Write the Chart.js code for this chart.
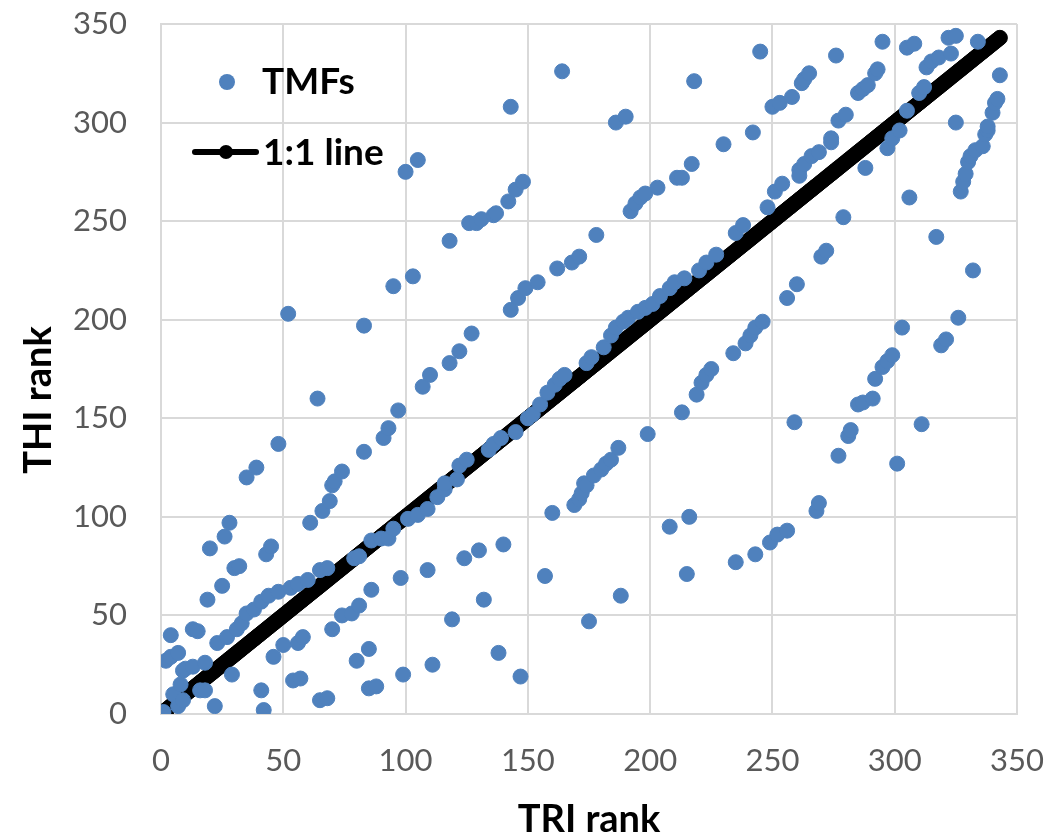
<!DOCTYPE html>
<html>
<head>
<meta charset="utf-8">
<script src="https://cdn.jsdelivr.net/npm/chart.js@4.4.1/dist/chart.umd.min.js"></script>
<style>
html,body{margin:0;padding:0;background:#ffffff;}
#wrap{width:1048px;height:836px;position:relative;}
</style>
</head>
<body>
<div id="wrap"><canvas id="c" width="1048" height="836"></canvas></div>
<script>
// ---------- data ----------
const xTitle = 'TRI rank';
const yTitle = 'THI rank';
const seriesNames = ['TMFs', '1:1 line'];
const axisTicks = [0, 50, 100, 150, 200, 250, 300, 350];

// TMFs: TRI rank (x) and THI rank (y)
const triRank = [
  1, 2, 4, 4, 5, 7, 7, 8, 9, 9, 10, 13, 13, 15, 16, 18, 18, 19, 20, 22,
  23, 25, 26, 27, 28, 29, 30, 31, 32, 33, 35, 35, 38, 39, 41, 41, 42, 43, 44, 45,
  46, 48, 48, 50, 52, 53, 54, 56, 56, 57, 58, 60, 61, 64, 65, 65, 66, 68, 68, 69,
  70, 70, 71, 74, 74, 78, 79, 80, 81, 81, 83, 83, 85, 85, 86, 86, 88, 90, 91, 93,
  93, 95, 95, 97, 98, 99, 100, 101, 103, 105, 105, 107, 109, 109, 110, 111, 113, 116, 116, 118,
  118, 119, 121, 122, 122, 124, 125, 126, 127, 129, 130, 131, 132, 134, 136, 136, 137, 138, 139, 140,
  142, 143, 143, 145, 145, 146, 147, 148, 149, 150, 152, 154, 155, 157, 158, 160, 161, 162, 163, 164,
  165, 168, 169, 171, 171, 172, 173, 174, 174, 175, 176, 177, 178, 180, 181, 182, 184, 184, 186, 186,
  187, 188, 189, 190, 191, 192, 194, 195, 196, 198, 198, 199, 201, 203, 204, 208, 208, 210, 211, 213,
  213, 214, 215, 216, 217, 218, 219, 220, 221, 223, 223, 225, 227, 230, 234, 235, 235, 238, 239, 241,
  242, 243, 243, 245, 246, 248, 249, 250, 251, 252, 253, 254, 256, 256, 258, 259, 260, 261, 261, 262,
  263, 263, 265, 266, 268, 269, 269, 270, 272, 274, 274, 276, 277, 277, 279, 280, 281, 282, 285, 285,
  287, 287, 288, 289, 291, 292, 292, 293, 295, 295, 297, 297, 299, 299, 301, 302, 303, 305, 305, 306,
  308, 310, 311, 312, 313, 315, 317, 318, 319, 321, 322, 323, 325, 325, 326, 327, 328, 329, 330, 331,
  332, 333, 334, 336, 337, 338, 338, 340, 341, 342, 343
];
const thiRank = [
  1, 27, 29, 40, 10, 31, 4, 15, 22, 7, 23, 24, 43, 42, 12, 26, 12, 58, 84, 4,
  36, 65, 90, 39, 97, 20, 74, 43, 75, 46, 51, 120, 53, 125, 57, 12, 2, 81, 60, 85,
  29, 62, 137, 35, 203, 64, 17, 66, 36, 18, 39, 68, 97, 160, 73, 7, 103, 74, 8, 108,
  116, 43, 118, 123, 50, 51, 79, 27, 80, 55, 197, 133, 33, 13, 88, 63, 14, 89, 140, 89,
  145, 94, 217, 154, 69, 20, 275, 99, 222, 101, 281, 166, 104, 73, 172, 25, 110, 114, 117, 178,
  240, 48, 119, 184, 126, 79, 129, 249, 193, 249, 83, 251, 58, 134, 253, 137, 254, 31, 140, 86,
  260, 308, 205, 266, 143, 211, 19, 270, 216, 150, 152, 219, 157, 70, 163, 102, 167, 226, 170, 326,
  172, 229, 106, 232, 109, 112, 117, 116, 178, 47, 181, 121, 243, 124, 186, 127, 129, 192, 300, 196,
  135, 60, 199, 303, 201, 255, 259, 204, 262, 264, 206, 142, 208, 267, 212, 216, 95, 219, 272, 272,
  153, 221, 71, 100, 279, 321, 162, 225, 168, 229, 172, 175, 233, 289, 183, 244, 77, 248, 188, 192,
  295, 196, 81, 336, 199, 257, 87, 308, 265, 91, 310, 269, 211, 93, 313, 148, 218, 276, 273, 320,
  322, 279, 325, 283, 103, 285, 107, 232, 235, 292, 290, 334, 301, 131, 252, 304, 141, 144, 315, 157,
  317, 158, 277, 319, 160, 325, 170, 327, 341, 176, 287, 179, 292, 182, 127, 296, 196, 338, 306, 262,
  340, 315, 147, 318, 328, 331, 242, 333, 187, 190, 343, 335, 344, 300, 201, 265, 270, 274, 280, 283,
  225, 286, 341, 288, 294, 296, 298, 305, 310, 312, 324
];

// 1:1 line: every rank plotted against itself
const lineRank = [
  1, 2, 3, 4, 5, 6, 7, 8, 9, 10, 11, 12, 13, 14, 15, 16, 17, 18, 19, 20,
  21, 22, 23, 24, 25, 26, 27, 28, 29, 30, 31, 32, 33, 34, 35, 36, 37, 38, 39, 40,
  41, 42, 43, 44, 45, 46, 47, 48, 49, 50, 51, 52, 53, 54, 55, 56, 57, 58, 59, 60,
  61, 62, 63, 64, 65, 66, 67, 68, 69, 70, 71, 72, 73, 74, 75, 76, 77, 78, 79, 80,
  81, 82, 83, 84, 85, 86, 87, 88, 89, 90, 91, 92, 93, 94, 95, 96, 97, 98, 99, 100,
  101, 102, 103, 104, 105, 106, 107, 108, 109, 110, 111, 112, 113, 114, 115, 116, 117, 118, 119, 120,
  121, 122, 123, 124, 125, 126, 127, 128, 129, 130, 131, 132, 133, 134, 135, 136, 137, 138, 139, 140,
  141, 142, 143, 144, 145, 146, 147, 148, 149, 150, 151, 152, 153, 154, 155, 156, 157, 158, 159, 160,
  161, 162, 163, 164, 165, 166, 167, 168, 169, 170, 171, 172, 173, 174, 175, 176, 177, 178, 179, 180,
  181, 182, 183, 184, 185, 186, 187, 188, 189, 190, 191, 192, 193, 194, 195, 196, 197, 198, 199, 200,
  201, 202, 203, 204, 205, 206, 207, 208, 209, 210, 211, 212, 213, 214, 215, 216, 217, 218, 219, 220,
  221, 222, 223, 224, 225, 226, 227, 228, 229, 230, 231, 232, 233, 234, 235, 236, 237, 238, 239, 240,
  241, 242, 243, 244, 245, 246, 247, 248, 249, 250, 251, 252, 253, 254, 255, 256, 257, 258, 259, 260,
  261, 262, 263, 264, 265, 266, 267, 268, 269, 270, 271, 272, 273, 274, 275, 276, 277, 278, 279, 280,
  281, 282, 283, 284, 285, 286, 287, 288, 289, 290, 291, 292, 293, 294, 295, 296, 297, 298, 299, 300,
  301, 302, 303, 304, 305, 306, 307, 308, 309, 310, 311, 312, 313, 314, 315, 316, 317, 318, 319, 320,
  321, 322, 323, 324, 325, 326, 327, 328, 329, 330, 331, 332, 333, 334, 335, 336, 337, 338, 339, 340,
  341, 342, 343
];

// ---------- styles ----------
const BLUE = '#4F81BD';
const GRID = '#D9D9D9';
const TICK = '#595959';
const FONT = 'Lato, "Open Sans", "DejaVu Sans", sans-serif';

const tmfPoints = triRank.map((x, i) => ({ x: x, y: thiRank[i] }));
const linePoints = lineRank.map(r => ({ x: r, y: r }));

const overlay = {
  id: 'overlay',
  afterDraw(chart) {
    const ctx = chart.ctx;
    const ca = chart.chartArea;
    const ds = chart.data.datasets;
    ctx.save();
    // axis titles
    ctx.fillStyle = '#000000';
    ctx.font = 'bold 38px ' + FONT;
    ctx.textAlign = 'center';
    ctx.textBaseline = 'alphabetic';
    ctx.fillText(xTitle, (ca.left + ca.right) / 2, 832);
    ctx.save();
    ctx.translate(51, 400);
    ctx.rotate(-Math.PI / 2);
    ctx.fillText(yTitle, 0, 0);
    ctx.restore();

    // legend (inside plot, top-left)
    ctx.textAlign = 'left';
    ctx.font = 'bold 37px ' + FONT;
    // TMFs
    ctx.fillStyle = ds[0].backgroundColor;
    ctx.beginPath();
    ctx.arc(227, 82, 8, 0, Math.PI * 2);
    ctx.fill();
    ctx.fillStyle = '#000000';
    ctx.fillText(ds[0].label, 262, 94);
    // 1:1 line
    ctx.strokeStyle = ds[1].borderColor;
    ctx.lineWidth = 6;
    ctx.lineCap = 'round';
    ctx.beginPath();
    ctx.moveTo(195, 152);
    ctx.lineTo(256, 152);
    ctx.stroke();
    ctx.fillStyle = ds[1].pointBackgroundColor;
    ctx.beginPath();
    ctx.arc(226, 152, 7, 0, Math.PI * 2);
    ctx.fill();
    ctx.fillStyle = '#000000';
    ctx.fillText(ds[1].label, 263, 165);
    ctx.restore();
  }
};

const axisCommon = (fit) => ({
  type: 'linear',
  min: axisTicks[0],
  max: axisTicks[axisTicks.length - 1],
  afterBuildTicks: (scale) => { scale.ticks = axisTicks.map(v => ({ value: v })); },
  afterFit: fit,
  grid: { color: GRID, lineWidth: 2, drawTicks: false },
  border: { display: true, color: GRID, width: 2 },
  title: { display: false }
});

const xScale = axisCommon((s) => {
  s.height = 122;
  s.paddingLeft = 0; s.paddingRight = 0; s.paddingTop = 0; s.paddingBottom = 0;
});
xScale.position = 'bottom';
xScale.ticks = { color: TICK, font: { family: FONT, size: 31 }, padding: 28, maxRotation: 0 };

const yScale = axisCommon((s) => {
  s.width = 161;
  s.paddingLeft = 0; s.paddingRight = 0; s.paddingTop = 0; s.paddingBottom = 0;
});
yScale.position = 'left';
yScale.ticks = { color: TICK, font: { family: FONT, size: 31 }, padding: 34 };

new Chart(document.getElementById('c'), {
  type: 'scatter',
  data: {
    datasets: [
      {
        label: seriesNames[0],
        data: tmfPoints,
        backgroundColor: BLUE,
        borderColor: BLUE,
        pointRadius: 7.5,
        pointBorderWidth: 1,
        pointHoverRadius: 7.5,
        showLine: false
      },
      {
        label: seriesNames[1],
        data: linePoints,
        showLine: true,
        borderColor: '#000000',
        backgroundColor: '#000000',
        pointBackgroundColor: '#000000',
        pointBorderColor: '#000000',
        borderWidth: 6,
        pointRadius: 7.5,
        pointBorderWidth: 1,
        tension: 0
      }
    ]
  },
  options: {
    responsive: false,
    animation: false,
    devicePixelRatio: 1,
    layout: { padding: { top: 24, right: 31, bottom: 0, left: 0 } },
    plugins: {
      legend: { display: false },
      tooltip: { enabled: false }
    },
    scales: { x: xScale, y: yScale }
  },
  plugins: [overlay]
});
</script>
</body>
</html>
